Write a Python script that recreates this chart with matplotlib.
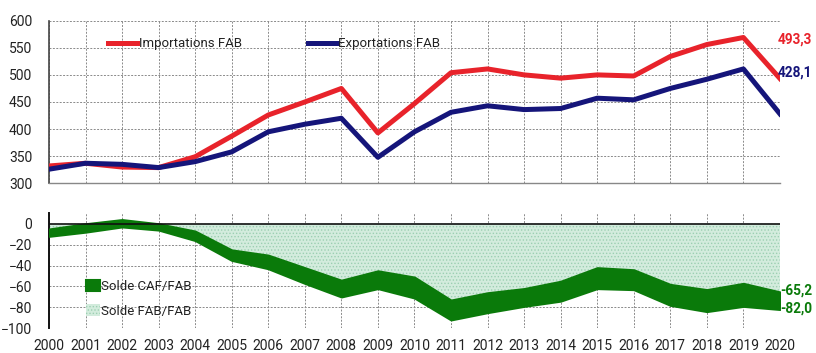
import numpy as np
import matplotlib.pyplot as plt

plt.rcParams['font.family'] = ['Roboto', 'DejaVu Sans']
plt.rcParams['hatch.linewidth'] = 0.6

# Data (Md EUR)
years = np.arange(2000, 2021)
imports_fab = [332, 337, 330, 329, 349, 387, 426, 450, 475, 393, 447,
               504, 511, 500, 494, 500, 498, 534, 556, 569, 493.3]
exports_fab = [326, 337, 335, 329, 340, 358, 395, 409, 420, 348, 395,
               431, 443, 436, 438, 457, 454, 475, 492, 511, 428.1]
solde_fab = [-5, 0, 4, 0, -7, -25, -30, -42, -54, -45, -51,
             -73, -66, -62, -55, -42, -44, -58, -63, -57, -65.2]
solde_caf = [-12, -8, -3, -6, -16, -35, -43, -57, -70, -62, -71,
             -92, -85, -79, -74, -62, -63, -78, -84, -79, -82.0]

red = '#e8232b'
navy = '#15157a'
green = '#0a7a0a'

fig = plt.figure(figsize=(8.16, 3.53), dpi=100)
ax1 = fig.add_axes([0.060, 0.4807, 0.8958, 0.4607])
ax2 = fig.add_axes([0.060, 0.070, 0.8958, 0.3257])

grid_kw = dict(color='#8a8a8a', linestyle=(0, (2, 1.5)), linewidth=0.7)

# --- top panel: imports / exports
ax1.plot(years, imports_fab, color=red, linewidth=3.6, label='Importations FAB', zorder=3)
ax1.plot(years, exports_fab, color=navy, linewidth=3.6, label='Exportations FAB', zorder=3)
ax1.set_xlim(2000, 2020)
ax1.set_ylim(300, 600)
ax1.set_yticks(np.arange(300, 601, 50))
ax1.set_xticks(years)
ax1.tick_params(axis='x', labelbottom=False, length=0)
ax1.tick_params(axis='y', length=0, labelsize=10, pad=12, colors='#222222')
ax1.grid(True, **grid_kw)
for s in ['top', 'right']:
    ax1.spines[s].set_visible(False)
ax1.spines['left'].set_color('#444444')
ax1.spines['left'].set_linewidth(1.2)
ax1.spines['bottom'].set_color('#888888')
ax1.spines['bottom'].set_linewidth(1.0)
ax1.legend(loc='upper left', bbox_to_anchor=(0.065, 0.97), ncol=2, frameon=False,
           fontsize=9.5, handlelength=2.2, handletextpad=0.1, columnspacing=5.0,
           labelcolor='#222222')
ax1.text(2019.93, imports_fab[-1] + 72, f"{imports_fab[-1]:.1f}".replace('.', ','),
         color=red, fontsize=9.8, fontweight='bold', ha='left', va='center')
ax1.text(2019.93, exports_fab[-1] + 77, f"{exports_fab[-1]:.1f}".replace('.', ','),
         color=navy, fontsize=9.8, fontweight='bold', ha='left', va='center')

# --- bottom panel: trade balances
ax2.fill_between(years, 0, solde_fab, facecolor='#d3ecdd', edgecolor='#9ccfb2',
                 hatch='.....', linewidth=0, zorder=2, label='Solde FAB/FAB')
ax2.fill_between(years, solde_fab, solde_caf, facecolor=green, edgecolor=green,
                 linewidth=1.5, zorder=3, label='Solde CAF/FAB')
ax2.axhline(0, color='#111111', linewidth=1.2, zorder=4)
ax2.set_xlim(2000, 2020)
ax2.set_ylim(-100, 10)
ax2.set_yticks(np.arange(-100, 1, 20))
ax2.set_xticks(years)
ax2.tick_params(axis='both', length=0, labelsize=10, colors='#222222')
ax2.tick_params(axis='y', pad=12)
ax2.tick_params(axis='x', pad=8)
ax2.grid(True, **grid_kw)
for s in ['top', 'right', 'bottom']:
    ax2.spines[s].set_visible(False)
ax2.spines['left'].set_color('#111111')
ax2.spines['left'].set_linewidth(1.4)

handles, labels = ax2.get_legend_handles_labels()
ax2.legend(handles[::-1], labels[::-1], loc='lower left', bbox_to_anchor=(0.035, -0.01),
           frameon=False, fontsize=9.5, handlelength=1.0, handleheight=1.0,
           handletextpad=0.1, labelspacing=0.85, labelcolor='#222222')
ax2.text(2020.0, solde_fab[-1] + 1, f"{solde_fab[-1]:.1f}".replace('.', ','),
         color=green, fontsize=9.8, fontweight='bold', ha='left', va='center')
ax2.text(2020.0, solde_caf[-1] + 1, f"{solde_caf[-1]:.1f}".replace('.', ','),
         color=green, fontsize=9.8, fontweight='bold', ha='left', va='center')

fig.savefig('out.png', dpi=100)
